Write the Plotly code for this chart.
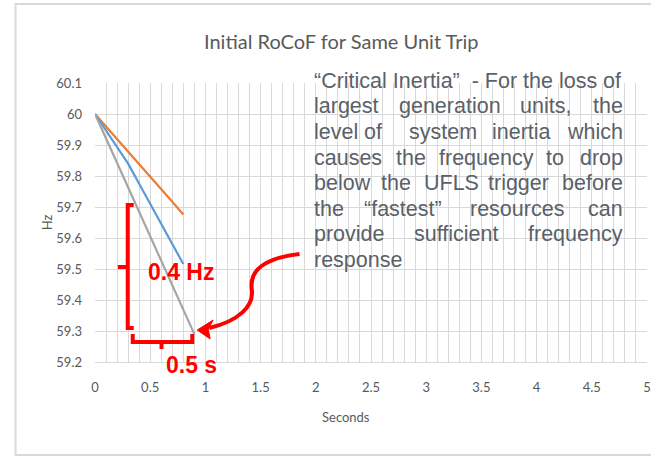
import plotly.graph_objects as go

# ---------------- data ----------------
t_orange = [0, 0.1, 0.2, 0.3, 0.4, 0.5, 0.6, 0.7, 0.8]
hz_orange = [60.0, 59.96, 59.919, 59.879, 59.838, 59.798, 59.757, 59.717, 59.676]

t_blue = [0, 0.1, 0.2, 0.3, 0.4, 0.5, 0.6, 0.7, 0.8]
hz_blue = [60.0, 59.948, 59.896, 59.84, 59.775, 59.71, 59.645, 59.58, 59.516]

t_gray = [0, 0.1, 0.2, 0.3, 0.4, 0.5, 0.6, 0.7, 0.8, 0.9]
hz_gray = [60.0, 59.921, 59.842, 59.763, 59.684, 59.606, 59.527, 59.448, 59.369, 59.29]

x_ticks = [0, 0.5, 1, 1.5, 2, 2.5, 3, 3.5, 4, 4.5, 5]
y_ticks = [59.2, 59.3, 59.4, 59.5, 59.6, 59.7, 59.8, 59.9, 60, 60.1]

title_text = "Initial RoCoF for Same Unit Trip"
x_title = "Seconds"
y_title = "Hz"

text_lines = [
    ["“Critical Inertia”  - For the loss of"],
    ["largest", "generation", "units,", "the"],
    ["level", "of", "system", "inertia", "which"],
    ["causes", "the", "frequency", "to", "drop"],
    ["below", "the", "UFLS", "trigger", "before"],
    ["the", "“fastest”", "resources", "can"],
    ["provide", "sufficient", "frequency"],
    ["response"],
]

# ---------------- layout geometry ----------------
W, H = 651, 456
ML, MR, MT, MB = 95, 0, 83, 94
XR = (0, 5)
YR = (59.2, 60.1)
pw = W - ML - MR
ph = H - MT - MB


def PX(px):
    return (px - ML) / pw


def PY(py):
    return (H - MB - py) / ph


def path(pts, close=False):
    s = "M " + " L ".join(f"{PX(a)},{PY(b)}" for a, b in pts)
    return s + (" Z" if close else "")


TICK_FONT = dict(family="Lato, sans-serif", size=13, color="#595959")
GRID = "#d9d9d9"
RED = "#ff0000"
TXT = "#5a6169"

fig = go.Figure()
fig.add_trace(go.Scatter(x=t_orange, y=hz_orange, mode="lines", line=dict(color="#ed7d31", width=2.2), showlegend=False))
fig.add_trace(go.Scatter(x=t_blue, y=hz_blue, mode="lines", line=dict(color="#5b9bd5", width=2.2), showlegend=False))
fig.add_trace(go.Scatter(x=t_gray, y=hz_gray, mode="lines", line=dict(color="#a5a5a5", width=2.2), showlegend=False))

shapes = []
# outer chart border
shapes.append(dict(type="rect", xref="paper", yref="paper",
                   x0=PX(15), x1=PX(W + 5), y0=PY(455), y1=PY(4),
                   line=dict(color="#d9d9d9", width=2), fillcolor="rgba(0,0,0,0)", layer="below"))
red_line = dict(color=RED, width=4)
# vertical bracket
shapes.append(dict(type="path", xref="paper", yref="paper",
                   path=path([(134, 205), (128, 205), (128, 328), (134, 328)]), line=red_line))
shapes.append(dict(type="path", xref="paper", yref="paper",
                   path=path([(128, 267), (118, 267)]), line=red_line))
# horizontal bracket
shapes.append(dict(type="path", xref="paper", yref="paper",
                   path=path([(133, 334), (133, 342), (193, 342), (193, 334)]), line=red_line))
shapes.append(dict(type="path", xref="paper", yref="paper",
                   path=path([(162, 342), (162, 349)]), line=red_line))
# curved arrow
curve = (f"M {PX(301)},{PY(254)} C {PX(266)},{PY(258)} {PX(250)},{PY(270)} {PX(253)},{PY(290)} "
         f"C {PX(255)},{PY(306)} {PX(240)},{PY(321)} {PX(210)},{PY(328)}")
shapes.append(dict(type="path", xref="paper", yref="paper", path=curve, line=red_line))
shapes.append(dict(type="path", xref="paper", yref="paper",
                   path=path([(198, 330), (214, 320), (209, 329), (211, 339)], close=True),
                   fillcolor=RED, line=dict(color=RED, width=1)))

annotations = []


def ann(px, py, text, font, xanchor="center", yanchor="middle", **kw):
    d = dict(x=PX(px), y=PY(py), xref="paper", yref="paper", text=text, showarrow=False, font=font,
             xanchor=xanchor, yanchor=yanchor)
    d.update(kw)
    annotations.append(d)


BOLD_RED = dict(family="Liberation Sans, Arial, sans-serif", size=23, color=RED)
ann(182, 272, "<b>0.4 Hz</b>", BOLD_RED)
ann(192, 365, "<b>0.5 s</b>", BOLD_RED)
ann(47, 222, y_title, TICK_FONT, textangle=-90)
ann(348, 417, x_title, TICK_FONT)
ann(343, 41, title_text, dict(family="Lato, sans-serif", size=20, color="#595959"))

# justified text block, word by word
line_y = [81, 106.5, 132, 157.5, 183, 208.5, 234, 259.5]
RIGHT = 629
word_x = [
    [314],
    [314, 399, 521, RIGHT],
    [314, 364, 409, 493, RIGHT],
    [314, 396, 439, 547, RIGHT],
    [314, 381, 424, 489, RIGHT],
    [314, 364, 471, RIGHT],
    [314, 414, RIGHT],
    [314],
]
TEXT_FONT = dict(family="Liberation Sans, Arial, sans-serif", size=21.5, color=TXT)
for words, xs, yy in zip(text_lines, word_x, line_y):
    n = len(words)
    for i, (w, xx) in enumerate(zip(words, xs)):
        anchor = "right" if (n > 1 and i == n - 1) else "left"
        ann(xx, yy, w, TEXT_FONT, xanchor=anchor, yanchor="middle")

fig.update_layout(
    width=W, height=H,
    margin=dict(l=ML, r=MR, t=MT, b=MB),
    paper_bgcolor="white", plot_bgcolor="white",
    shapes=shapes, annotations=annotations,
    xaxis=dict(range=list(XR), tickvals=x_ticks, ticktext=[f"{v:g}" for v in x_ticks],
               showgrid=True, gridcolor=GRID, gridwidth=1,
               minor=dict(dtick=0.1, showgrid=True, gridcolor=GRID, gridwidth=1),
               zeroline=False, showline=True, linecolor=GRID, linewidth=1,
               ticks="", ticklabelstandoff=13, ticklabeloverflow="allow", tickfont=TICK_FONT),
    yaxis=dict(range=list(YR), tickvals=y_ticks, ticktext=[f"{v:g}" for v in y_ticks],
               showgrid=True, gridcolor=GRID, gridwidth=1,
               zeroline=False, showline=False,
               ticks="", ticklabelstandoff=12, tickfont=TICK_FONT),
)

fig.write_html("out.html")
